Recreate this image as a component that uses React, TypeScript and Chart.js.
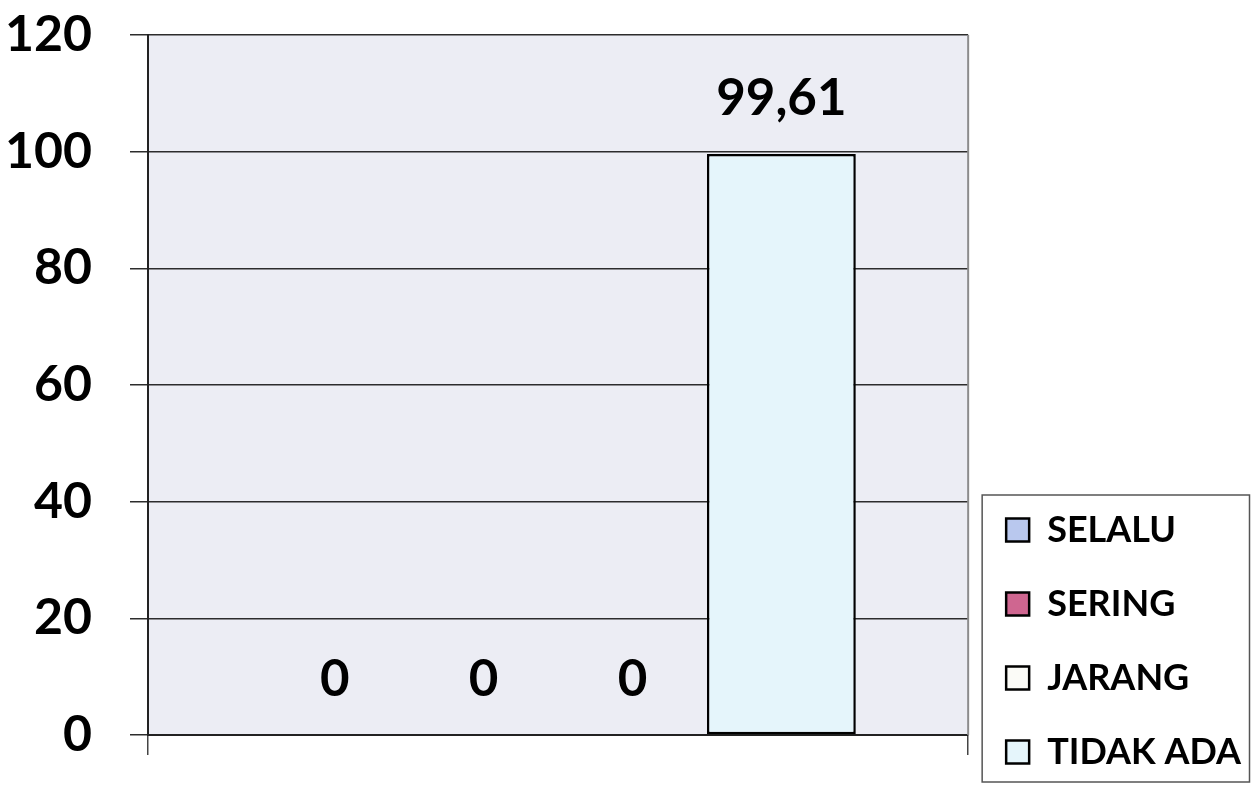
import React, { useEffect, useRef } from "react";
import { Chart, registerables } from "chart.js";

Chart.register(...registerables);

// Single category, four response groups
const categories: string[] = [""];
const seriesLabels: string[] = ["SELALU", "SERING", "JARANG", "TIDAK ADA"];
const selalu: number[] = [0];
const sering: number[] = [0];
const jarang: number[] = [0];
const tidakAda: number[] = [99.61];
const seriesColors: string[] = ["#b9c8ee", "#cf6690", "#fbfbf7", "#e5f5fb"];
const yTicks: number[] = [0, 20, 40, 60, 80, 100, 120];

const FONT = "Lato, 'Open Sans', sans-serif";

// Plot background and right-hand frame
const plotBackground = {
  id: "plotBackground",
  beforeDraw(chart: any) {
    const { ctx, chartArea } = chart;
    ctx.save();
    ctx.fillStyle = "#ecedf4";
    ctx.fillRect(chartArea.left, chartArea.top, chartArea.right - chartArea.left, chartArea.bottom - chartArea.top);
    ctx.restore();
  },
  beforeDatasetsDraw(chart: any) {
    const { ctx, chartArea } = chart;
    ctx.save();
    ctx.strokeStyle = "#8c8c8c";
    ctx.lineWidth = 2;
    ctx.beginPath();
    ctx.moveTo(chartArea.right, chartArea.top);
    ctx.lineTo(chartArea.right, chartArea.bottom);
    ctx.stroke();
    ctx.restore();
  },
};

// Value labels above each bar, decimal comma
const valueLabels = {
  id: "valueLabels",
  afterDatasetsDraw(chart: any) {
    const { ctx } = chart;
    ctx.save();
    ctx.font = `bold 51px ${FONT}`;
    ctx.fillStyle = "#000";
    ctx.textAlign = "center";
    ctx.textBaseline = "middle";
    chart.data.datasets.forEach((ds: any, i: number) => {
      const meta = chart.getDatasetMeta(i);
      meta.data.forEach((bar: any, j: number) => {
        const v = ds.data[j] as number;
        const text = String(v).replace(".", ",");
        ctx.fillText(text, bar.x, bar.y - 55);
      });
    });
    ctx.restore();
  },
};

// Legend sits low in the right column, framed
const legendFrame = {
  id: "legendFrame",
  afterLayout(chart: any) {
    const legend = chart.legend;
    if (!legend) return;
    legend.top += 22;
    legend.bottom += 22;
  },
  afterDraw(chart: any) {
    const legend = chart.legend;
    if (!legend || !legend.legendHitBoxes || !legend.legendHitBoxes.length) return;
    const boxes = legend.legendHitBoxes;
    const first = boxes[0];
    const last = boxes[boxes.length - 1];
    const { ctx } = chart;
    ctx.save();
    ctx.strokeStyle = "#555";
    ctx.lineWidth = 1.5;
    const left = legend.left + 14;
    const top = first.top - 17;
    const right = chart.width - 1.5;
    const bottom = last.top + last.height + 12;
    ctx.strokeRect(left, top, right - left, bottom - top);
    ctx.restore();
  },
};

export default function App() {
  const canvasRef = useRef<HTMLCanvasElement | null>(null);

  useEffect(() => {
    document.body.style.margin = "0";
    const canvas = canvasRef.current;
    if (!canvas) return;
    const values = [selalu, sering, jarang, tidakAda];
    const chart = new Chart(canvas, {
      type: "bar",
      data: {
        labels: categories,
        datasets: seriesLabels.map((label, i) => ({
          label,
          data: values[i],
          backgroundColor: seriesColors[i],
          borderColor: "#000",
          borderWidth: 2.5,
          borderSkipped: false,
          categoryPercentage: 0.726,
          barPercentage: 1,
        })),
      },
      options: {
        animation: false,
        responsive: false,
        maintainAspectRatio: false,
        layout: { padding: { top: 35, right: 0, left: 0, bottom: 0 } },
        plugins: {
          legend: {
            position: "right",
            align: "end",
            maxWidth: 283,
            labels: {
              color: "#000",
              font: { family: FONT, size: 36, weight: "bold" },
              boxWidth: 23,
              boxHeight: 23,
              padding: 38,
            },
          },
          tooltip: { enabled: false },
        },
        scales: {
          x: {
            grid: {
              offset: true,
              drawOnChartArea: false,
              drawTicks: true,
              tickLength: 20,
              color: "#444",
              lineWidth: 1.5,
            },
            border: { display: true, color: "#222", width: 2 },
            ticks: { display: false },
            afterFit: (scale: any) => {
              scale.height = 51;
            },
          },
          y: {
            min: 0,
            max: 120,
            afterBuildTicks: (scale: any) => {
              scale.ticks = yTicks.map((v) => ({ value: v }));
            },
            grid: {
              color: "#2c2c2c",
              lineWidth: 1.5,
              tickLength: 18,
            },
            border: { display: true, color: "#222", width: 2 },
            ticks: {
              color: "#000",
              padding: 38,
              font: { family: FONT, size: 50, weight: "bold" },
            },
            afterFit: (scale: any) => {
              scale.width = 148;
              scale.paddingTop = 0;
              scale.paddingBottom = 0;
            },
          },
        },
      },
      plugins: [plotBackground, valueLabels, legendFrame],
    });
    return () => chart.destroy();
  }, []);

  return (
    <div style={{ width: 1251, height: 786, background: "#fff" }}>
      <canvas ref={canvasRef} width={1251} height={786} style={{ display: "block" }} />
    </div>
  );
}
